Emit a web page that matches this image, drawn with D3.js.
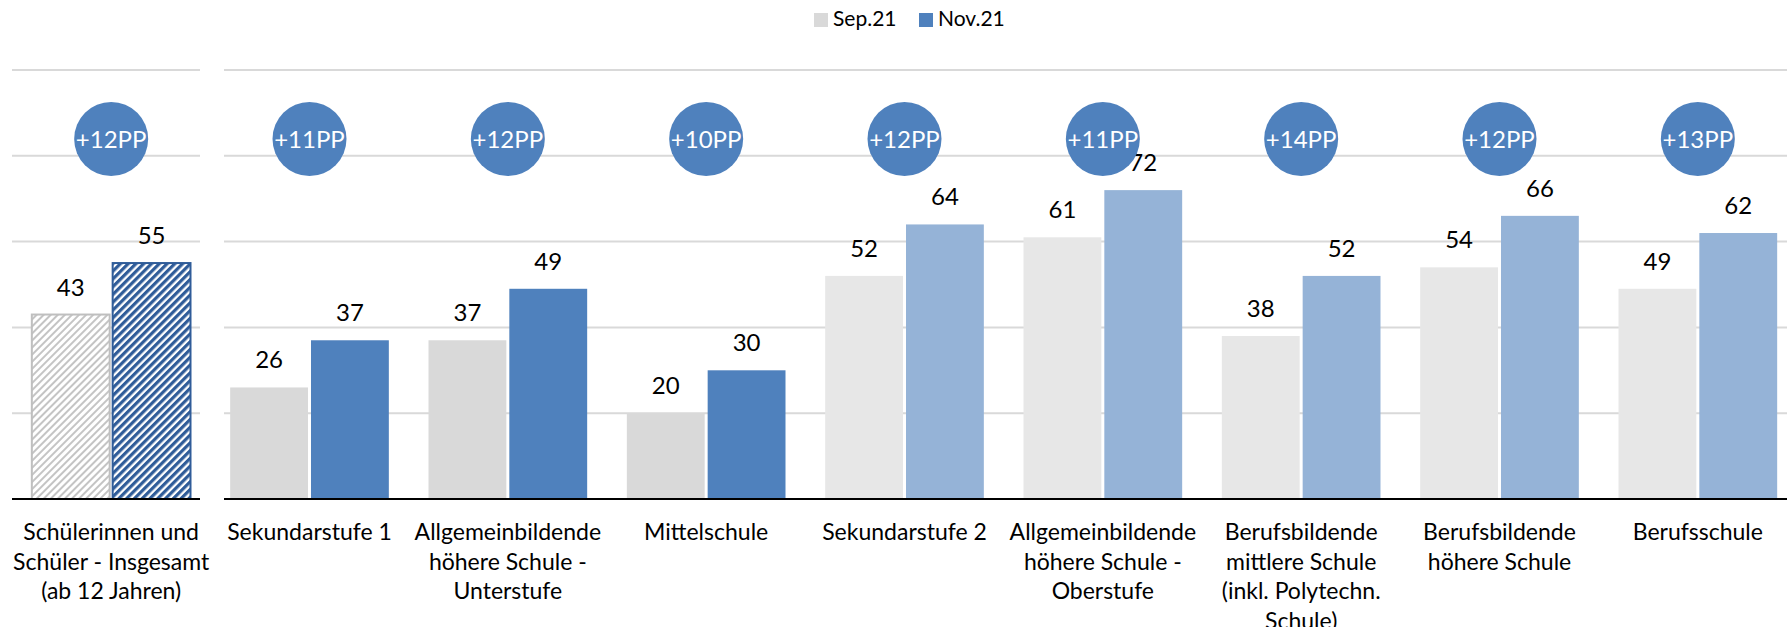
<!DOCTYPE html>
<html>
<head>
<meta charset="utf-8">
<script src="https://cdn.jsdelivr.net/npm/d3@7"></script>
<style>
  html, body { margin: 0; padding: 0; background: #fff; }
  svg { display: block; font-family: Lato, "Open Sans", sans-serif; }
</style>
</head>
<body>
<div id="chart"></div>
<script>
// =============================
// DATA
// =============================
const categories = [
  "Schülerinnen und Schüler - Insgesamt (ab 12 Jahren)",
  "Sekundarstufe 1",
  "Allgemeinbildende höhere Schule - Unterstufe",
  "Mittelschule",
  "Sekundarstufe 2",
  "Allgemeinbildende höhere Schule - Oberstufe",
  "Berufsbildende mittlere Schule (inkl. Polytechn. Schule)",
  "Berufsbildende höhere Schule",
  "Berufsschule"
];

// wie die Beschriftungen im Original umbrechen
const labelLines = [
  ["Schülerinnen und", "Schüler - Insgesamt", "(ab 12 Jahren)"],
  ["Sekundarstufe 1"],
  ["Allgemeinbildende", "höhere Schule -", "Unterstufe"],
  ["Mittelschule"],
  ["Sekundarstufe 2"],
  ["Allgemeinbildende", "höhere Schule -", "Oberstufe"],
  ["Berufsbildende", "mittlere Schule", "(inkl. Polytechn.", "Schule)"],
  ["Berufsbildende", "höhere Schule"],
  ["Berufsschule"]
];

// Stufe jeder Kategorie
const levels = ["Gesamt", "Sek1", "Sek1", "Sek1", "Sek2", "Sek2", "Sek2", "Sek2", "Sek2"];

const seriesNames = ["Sep.21", "Nov.21"];
const sep21 = [43, 26, 37, 20, 52, 61, 38, 54, 49];
const nov21 = [55, 37, 49, 30, 64, 72, 52, 66, 62];

const yTicks = [0, 20, 40, 60, 80, 100];

// =============================
// SETUP
// =============================
const width = 1787;
const height = 627;

const svg = d3.select("#chart")
  .append("svg")
  .attr("width", width)
  .attr("height", height);

const x0 = d3.scaleBand()
  .domain(categories)
  .range([12, 1797])
  .paddingInner(0.2)
  .paddingOuter(0.1);

const x1 = d3.scaleBand()
  .domain(seriesNames)
  .range([0, x0.bandwidth()])
  .paddingInner(0.037);

const y = d3.scaleLinear()
  .domain([0, 100])
  .range([499, 70]);

// Farben je Stufe
const colors = {
  Gesamt: { "Sep.21": "url(#hatchSep)", "Nov.21": "url(#hatchNov)" },
  Sek1:   { "Sep.21": "#d9d9d9", "Nov.21": "#4f81bd" },
  Sek2:   { "Sep.21": "#e7e7e7", "Nov.21": "#95b3d7" }
};

// =============================
// HATCH PATTERNS
// =============================
const defs = svg.append("defs");

const pSep = defs.append("pattern")
  .attr("id", "hatchSep")
  .attr("patternUnits", "userSpaceOnUse")
  .attr("width", 5).attr("height", 5)
  .attr("patternTransform", "rotate(45)");
pSep.append("rect").attr("width", 5).attr("height", 5).attr("fill", "#fff");
pSep.append("rect").attr("width", 2).attr("height", 5).attr("fill", "#c4c4c4");

const pNov = defs.append("pattern")
  .attr("id", "hatchNov")
  .attr("patternUnits", "userSpaceOnUse")
  .attr("width", 5.5).attr("height", 5.5)
  .attr("patternTransform", "rotate(45)");
pNov.append("rect").attr("width", 5.5).attr("height", 5.5).attr("fill", "#fff");
pNov.append("rect").attr("width", 3.2).attr("height", 5.5).attr("fill", "#2f5c99");

// =============================
// GRIDLINES (zwei Bereiche)
// =============================
const panels = [
  [12, 200],
  [224, width]
];

panels.forEach(([a, b]) => {
  svg.append("g")
    .selectAll("line")
    .data(yTicks.filter(t => t > 0))
    .enter()
    .append("line")
    .attr("x1", a).attr("x2", b)
    .attr("y1", d => y(d)).attr("y2", d => y(d))
    .attr("stroke", "#d9d9d9")
    .attr("stroke-width", 2);
});

// =============================
// BARS
// =============================
const rows = categories.map((c, i) => ({
  cat: c,
  level: levels[i],
  values: [
    { key: "Sep.21", value: sep21[i] },
    { key: "Nov.21", value: nov21[i] }
  ]
}));

const groups = svg.append("g")
  .selectAll("g")
  .data(rows)
  .enter()
  .append("g")
  .attr("transform", d => `translate(${x0(d.cat)},0)`);

groups.selectAll("rect")
  .data(d => d.values.map(v => ({ ...v, level: d.level })))
  .enter()
  .append("rect")
  .attr("x", d => x1(d.key))
  .attr("y", d => y(d.value))
  .attr("width", x1.bandwidth())
  .attr("height", d => y(0) - y(d.value))
  .attr("fill", d => colors[d.level][d.key])
  .attr("stroke", d => d.level === "Gesamt" ? (d.key === "Sep.21" ? "#bfbfbf" : "#2f5c99") : "none")
  .attr("stroke-width", 2);

// VALUE LABELS
groups.selectAll("text.val")
  .data(d => d.values)
  .enter()
  .append("text")
  .attr("class", "val")
  .attr("x", d => x1(d.key) + x1.bandwidth() / 2)
  .attr("y", d => y(d.value) - 19)
  .attr("text-anchor", "middle")
  .attr("font-size", "24px")
  .attr("fill", "#000")
  .text(d => d.value);

// DIFF CIRCLES
groups.append("circle")
  .attr("cx", x0.bandwidth() / 2)
  .attr("cy", 139)
  .attr("r", 37)
  .attr("fill", "#4f81bd");

groups.append("text")
  .attr("x", x0.bandwidth() / 2)
  .attr("y", 147.5)
  .attr("text-anchor", "middle")
  .attr("font-size", "24px")
  .attr("fill", "#fff")
  .text(d => "+" + (d.values[1].value - d.values[0].value) + "PP");

// BASELINE
panels.forEach(([a, b]) => {
  svg.append("line")
    .attr("x1", a).attr("x2", b)
    .attr("y1", y(0)).attr("y2", y(0))
    .attr("stroke", "#000")
    .attr("stroke-width", 2);
});

// =============================
// X LABELS
// =============================
const xLabels = svg.append("g")
  .selectAll("text")
  .data(categories)
  .enter()
  .append("text")
  .attr("x", d => x0(d) + x0.bandwidth() / 2)
  .attr("y", 540)
  .attr("text-anchor", "middle")
  .attr("font-size", "23px")
  .attr("fill", "#000");

xLabels.selectAll("tspan")
  .data((d, i) => labelLines[i])
  .enter()
  .append("tspan")
  .attr("x", function () { return d3.select(this.parentNode).attr("x"); })
  .attr("dy", (d, i) => i === 0 ? 0 : 29.5)
  .text(d => d);

// =============================
// LEGEND
// =============================
const legendX = [814, 919];
const legend = svg.append("g")
  .selectAll("g")
  .data(seriesNames)
  .enter()
  .append("g")
  .attr("transform", (d, i) => `translate(${legendX[i]},13)`);

legend.append("rect")
  .attr("width", 14)
  .attr("height", 14)
  .attr("fill", d => colors.Sek1[d]);

legend.append("text")
  .attr("x", 19)
  .attr("y", 13)
  .attr("font-size", "21px")
  .attr("fill", "#000")
  .text(d => d);
</script>
</body>
</html>
